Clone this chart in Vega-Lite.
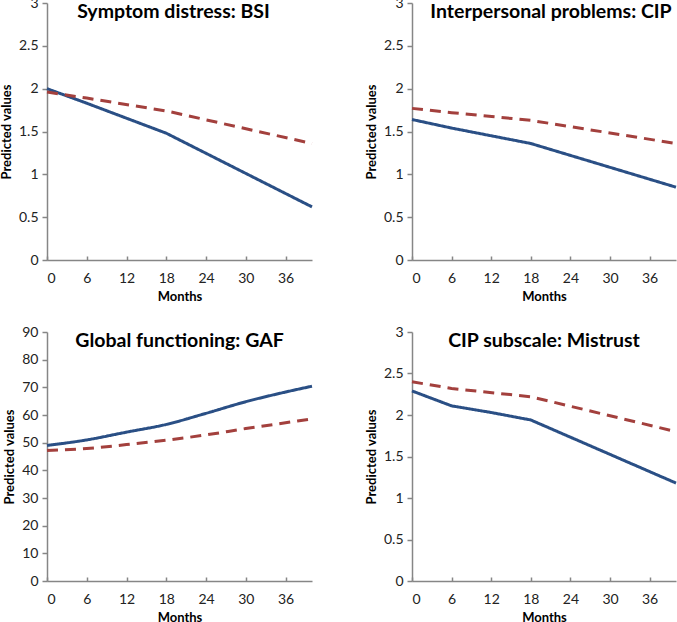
{
  "$schema": "https://vega.github.io/schema/vega-lite/v6.json",
  "background": "white",
  "padding": {"left": 0, "top": -4, "right": 0, "bottom": 0},
  "config": {
    "view": {"stroke": null},
    "font": "Lato",
    "axis": {
      "grid": false,
      "domainColor": "#868686",
      "domainWidth": 1.5,
      "tickColor": "#868686",
      "tickWidth": 1.5,
      "tickSize": 5,
      "labelFont": "Lato",
      "labelFontSize": 14,
      "labelColor": "#222222",
      "titleFont": "Lato",
      "titleFontSize": 13,
      "titleFontWeight": "bold",
      "titleColor": "#000000"
    },
    "axisY": {"titlePadding": 5, "labelPadding": 4},
    "axisX": {"titlePadding": 5, "labelPadding": 15, "tickSize": -4},
    "title": {"font": "Lato", "fontSize": 19.5, "fontWeight": "bold", "color": "#000000", "anchor": "middle"}
  },
  "datasets": {
    "bsi": [
      {"month": 0, "value": 2.0, "series": "A"},
      {"month": 6, "value": 1.83, "series": "A"},
      {"month": 18, "value": 1.48, "series": "A"},
      {"month": 40, "value": 0.62, "series": "A"},
      {"month": 0, "value": 1.96, "series": "B"},
      {"month": 6, "value": 1.89, "series": "B"},
      {"month": 18, "value": 1.74, "series": "B"},
      {"month": 40, "value": 1.36, "series": "B"}
    ],
    "cip": [
      {"month": 0, "value": 1.64, "series": "A"},
      {"month": 6, "value": 1.54, "series": "A"},
      {"month": 18, "value": 1.36, "series": "A"},
      {"month": 40, "value": 0.85, "series": "A"},
      {"month": 0, "value": 1.77, "series": "B"},
      {"month": 6, "value": 1.72, "series": "B"},
      {"month": 18, "value": 1.63, "series": "B"},
      {"month": 40, "value": 1.36, "series": "B"}
    ],
    "gaf": [
      {"month": 0, "value": 49.0, "series": "A"},
      {"month": 6, "value": 51.0, "series": "A"},
      {"month": 12, "value": 53.8, "series": "A"},
      {"month": 18, "value": 56.6, "series": "A"},
      {"month": 24, "value": 60.6, "series": "A"},
      {"month": 30, "value": 64.8, "series": "A"},
      {"month": 36, "value": 68.3, "series": "A"},
      {"month": 40, "value": 70.4, "series": "A"},
      {"month": 0, "value": 47.2, "series": "B"},
      {"month": 6, "value": 47.9, "series": "B"},
      {"month": 12, "value": 49.3, "series": "B"},
      {"month": 18, "value": 50.9, "series": "B"},
      {"month": 24, "value": 52.8, "series": "B"},
      {"month": 30, "value": 55.1, "series": "B"},
      {"month": 36, "value": 57.2, "series": "B"},
      {"month": 40, "value": 58.6, "series": "B"}
    ],
    "mistrust": [
      {"month": 0, "value": 2.29, "series": "A"},
      {"month": 6, "value": 2.11, "series": "A"},
      {"month": 12, "value": 2.03, "series": "A"},
      {"month": 18, "value": 1.94, "series": "A"},
      {"month": 40, "value": 1.18, "series": "A"},
      {"month": 0, "value": 2.4, "series": "B"},
      {"month": 6, "value": 2.32, "series": "B"},
      {"month": 18, "value": 2.22, "series": "B"},
      {"month": 40, "value": 1.8, "series": "B"}
    ]
  },
  "spacing": 22,
  "vconcat": [
    {
      "spacing": 47,
      "hconcat": [
        {
          "width": 265, "height": 257,
          "title": {"text": "Symptom distress: BSI", "offset": -26, "dx": -6},
          "data": {"name": "bsi"},
          "mark": {"type": "line", "strokeWidth": 3},
          "encoding": {
            "x": {"field": "month", "type": "quantitative", "scale": {"domain": [0, 40], "nice": false}, "axis": {"values": [0, 6, 12, 18, 24, 30, 36], "title": "Months"}},
            "y": {"field": "value", "type": "quantitative", "scale": {"domain": [0, 3], "nice": false}, "axis": {"values": [0, 0.5, 1, 1.5, 2, 2.5, 3], "format": "~g", "title": "Predicted values"}},
            "color": {"field": "series", "type": "nominal", "scale": {"domain": ["A", "B"], "range": ["#2A4F85", "#A3403D"]}, "legend": null},
            "strokeDash": {"field": "series", "type": "nominal", "scale": {"domain": ["A", "B"], "range": [[1, 0], [11, 7]]}, "legend": null}
          }
        },
        {
          "width": 264, "height": 257,
          "title": {"text": "Interpersonal problems: CIP", "offset": -26, "dx": 7},
          "data": {"name": "cip"},
          "mark": {"type": "line", "strokeWidth": 3},
          "encoding": {
            "x": {"field": "month", "type": "quantitative", "scale": {"domain": [0, 40], "nice": false}, "axis": {"values": [0, 6, 12, 18, 24, 30, 36], "title": "Months"}},
            "y": {"field": "value", "type": "quantitative", "scale": {"domain": [0, 3], "nice": false}, "axis": {"values": [0, 0.5, 1, 1.5, 2, 2.5, 3], "format": "~g", "title": "Predicted values"}},
            "color": {"field": "series", "type": "nominal", "scale": {"domain": ["A", "B"], "range": ["#2A4F85", "#A3403D"]}, "legend": null},
            "strokeDash": {"field": "series", "type": "nominal", "scale": {"domain": ["A", "B"], "range": [[1, 0], [11, 7]]}, "legend": null}
          }
        }
      ]
    },
    {
      "spacing": 47,
      "hconcat": [
        {
          "width": 265, "height": 249,
          "title": {"text": "Global functioning: GAF", "offset": -26},
          "data": {"name": "gaf"},
          "mark": {"type": "line", "strokeWidth": 3, "interpolate": "monotone"},
          "encoding": {
            "x": {"field": "month", "type": "quantitative", "scale": {"domain": [0, 40], "nice": false}, "axis": {"values": [0, 6, 12, 18, 24, 30, 36], "title": "Months"}},
            "y": {"field": "value", "type": "quantitative", "scale": {"domain": [0, 90], "nice": false}, "axis": {"values": [0, 10, 20, 30, 40, 50, 60, 70, 80, 90], "format": "d", "title": "Predicted values"}},
            "color": {"field": "series", "type": "nominal", "scale": {"domain": ["A", "B"], "range": ["#2A4F85", "#A3403D"]}, "legend": null},
            "strokeDash": {"field": "series", "type": "nominal", "scale": {"domain": ["A", "B"], "range": [[1, 0], [11, 7]]}, "legend": null}
          }
        },
        {
          "width": 264, "height": 249,
          "title": {"text": "CIP subscale: Mistrust", "offset": -26},
          "data": {"name": "mistrust"},
          "mark": {"type": "line", "strokeWidth": 3},
          "encoding": {
            "x": {"field": "month", "type": "quantitative", "scale": {"domain": [0, 40], "nice": false}, "axis": {"values": [0, 6, 12, 18, 24, 30, 36], "title": "Months"}},
            "y": {"field": "value", "type": "quantitative", "scale": {"domain": [0, 3], "nice": false}, "axis": {"values": [0, 0.5, 1, 1.5, 2, 2.5, 3], "format": "~g", "title": "Predicted values"}},
            "color": {"field": "series", "type": "nominal", "scale": {"domain": ["A", "B"], "range": ["#2A4F85", "#A3403D"]}, "legend": null},
            "strokeDash": {"field": "series", "type": "nominal", "scale": {"domain": ["A", "B"], "range": [[1, 0], [11, 7]]}, "legend": null}
          }
        }
      ]
    }
  ]
}
